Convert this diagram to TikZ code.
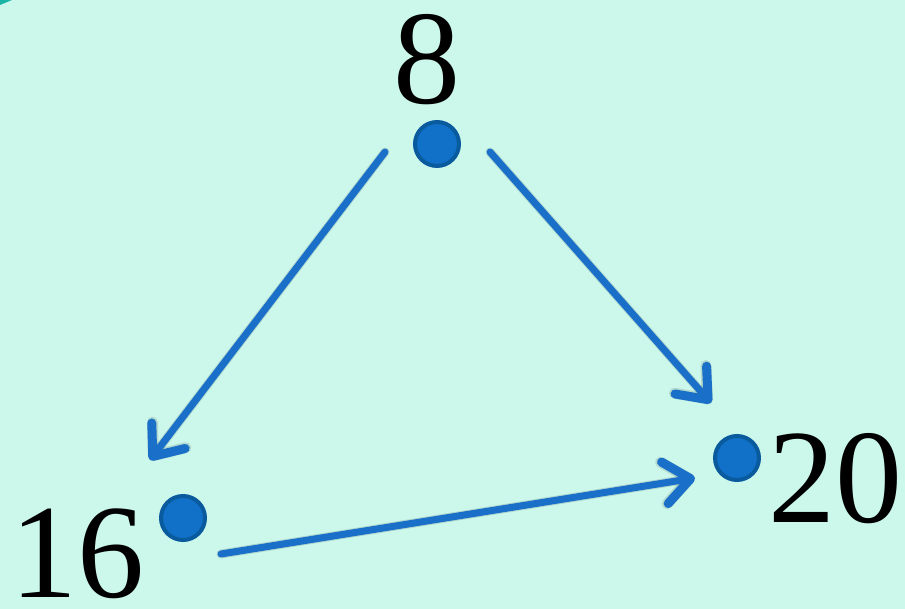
\documentclass[tikz,border=0pt]{standalone}
\usepackage{fontspec}
\setmainfont{Liberation Serif}
\usetikzlibrary{arrows.meta}
\definecolor{bg}{HTML}{CCF8EC}
\definecolor{dotfill}{HTML}{1170C8}
\definecolor{dotline}{HTML}{0A5A9E}
\definecolor{arr}{HTML}{1A6FC9}
\definecolor{corner}{HTML}{1BB5A8}
\tikzset{
  dot/.style={circle,fill=dotfill,draw=dotline,line width=4pt,minimum size=44pt,inner sep=0pt},
  lbl/.style={font=\fontsize{134}{134}\selectfont,inner sep=0pt,anchor=base},
  conn/.style={arr,line width=7pt,line cap=round,-{Straight Barb[length=26pt,width=42pt,round,line width=9pt]}},
  connshadow/.style={black,opacity=0.12,line width=9pt,line cap=round,-{Straight Barb[length=26pt,width=42pt,round,line width=11pt]}}
}
\begin{document}
\begin{tikzpicture}[x=1pt,y=1pt]
\fill[bg] (0,0) rectangle (905,609);
\useasboundingbox (0,0) rectangle (905,609);
\fill[corner] (0,609) -- (12,609) -- (0,604) -- cycle;
% dots
\node[dot] (top) at (437,465) {};
\node[dot] (left) at (183,91) {};
\node[dot] (right) at (737,151) {};
% labels
\node[lbl] (l8) at (427,505) {8};
\node[lbl] (l16) at (77,11) {16};
\node[lbl] (l20) at (835,86) {20};
% arrow end points
\coordinate (s1) at (385,457);
\coordinate (e1) at (150,149);
\coordinate (s2) at (490,457);
\coordinate (e2) at (711,206);
\coordinate (s3) at (221,55);
\coordinate (e3) at (695,131);
% shadows
\begin{scope}[shift={(4,-5)}]
\draw[connshadow] (s1) -- (e1);
\draw[connshadow] (s2) -- (e2);
\draw[connshadow] (s3) -- (e3);
\end{scope}
% arrows
\draw[conn] (s1) -- (e1);
\draw[conn] (s2) -- (e2);
\draw[conn] (s3) -- (e3);
\end{tikzpicture}
\end{document}
